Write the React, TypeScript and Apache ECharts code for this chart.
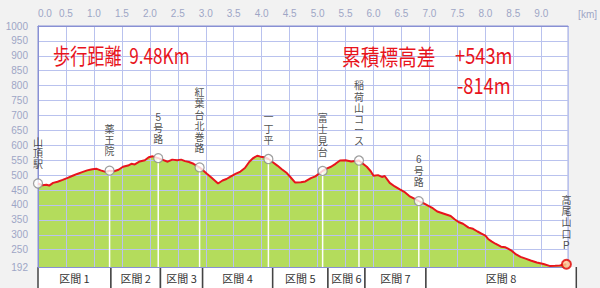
import React, { useEffect, useRef } from "react";
import * as echarts from "echarts";

// elevation profile (distance km, elevation m)
const profileKm = [
  0.0, 0.08, 0.15, 0.2, 0.27, 0.35, 0.44, 0.52, 0.62, 0.7, 0.79, 0.88, 0.97, 1.05, 1.12, 1.21, 1.28, 1.36, 1.44, 1.52,
  1.61, 1.67, 1.73, 1.82, 1.91, 1.98, 2.05, 2.15, 2.22, 2.32, 2.4, 2.49, 2.56, 2.63, 2.7, 2.78, 2.89, 2.96, 3.02, 3.1,
  3.22, 3.3, 3.37, 3.45, 3.54, 3.62, 3.7, 3.78, 3.84, 3.92, 3.98, 4.05, 4.12, 4.2, 4.28, 4.36, 4.45, 4.52, 4.6, 4.7,
  4.78, 4.88, 4.96, 5.09, 5.16, 5.24, 5.32, 5.4, 5.5, 5.6, 5.74, 5.8, 5.88, 5.95, 6.0, 6.08, 6.15, 6.2, 6.29, 6.38,
  6.47, 6.55, 6.64, 6.72, 6.81, 6.9, 6.99, 7.06, 7.14, 7.22, 7.3, 7.38, 7.45, 7.52, 7.6, 7.7, 7.78, 7.86, 7.93, 8.0,
  8.05, 8.11, 8.18, 8.28, 8.36, 8.46, 8.55, 8.63, 8.72, 8.81, 8.92, 9.04, 9.16, 9.25, 9.33, 9.45,
];
const profileElev = [
  472, 466, 468, 465, 474, 478, 484, 490, 498, 504, 510, 516, 520, 521, 516, 511, 515, 513, 518, 528,
  532, 538, 536, 546, 550, 560, 563, 557, 552, 545, 552, 550, 552, 547, 544, 538, 526, 515, 505, 492,
  472, 482, 487, 496, 505, 512, 524, 545, 556, 565, 562, 560, 554, 543, 532, 520, 507, 492, 475, 476,
  479, 490, 496, 514, 522, 528, 538, 549, 550, 546, 549, 540, 528, 513, 498, 500, 494, 497, 474, 462,
  452, 444, 430, 422, 413, 405, 396, 389, 378, 373, 368, 363, 352, 343, 337, 324, 320, 311, 304, 297,
  286, 278, 270, 260, 258, 248, 234, 226, 220, 214, 207, 202, 195, 196, 197, 201,
];

const waypointNames = ["山頂駅", "薬王院", "5号路", "紅葉台北巻路", "一丁平", "富士見台", "稲荷山コース", "6号路", "高尾山口P"];
const waypointKm = [0.0, 1.28, 2.15, 2.89, 4.12, 5.09, 5.74, 6.81, 9.45];
const waypointElev = [472, 515, 557, 526, 554, 514, 549, 413, 201];

const sectionNames = ["区間 1", "区間 2", "区間 3", "区間 4", "区間 5", "区間 6", "区間 7", "区間 8"];

const yTicks = [192, 250, 300, 350, 400, 450, 500, 550, 600, 650, 700, 750, 800, 850, 900, 950, 1000];
const xMax = 9.48;
const yMin = 192;
const yMax = 1000;

const distanceText = "歩行距離  9.48Km";
const gainTitle = "累積標高差";
const gainUp = "+543m";
const gainDown = "-814m";

export default function App() {
  const ref = useRef<HTMLDivElement>(null);

  useEffect(() => {
    if (!ref.current) return;
    const chart = echarts.init(ref.current, null, { renderer: "svg" });

    const profile = profileKm.map((k, i) => [k, profileElev[i]]);
    const points = waypointNames.map((n, i) => ({
      name: n,
      value: [waypointKm[i], waypointElev[i]],
      itemStyle:
        i === waypointNames.length - 1
          ? { color: "#ffc890", borderColor: "#e00000", borderWidth: 2 }
          : { color: "#ffffff", borderColor: "#888888", borderWidth: 1.2 },
    }));
    const drops = waypointKm.slice(1, -1).map((k, i) => [k, waypointElev[i + 1]]);
    const sections = sectionNames.map((n, i) => [waypointKm[i], waypointKm[i + 1], n]);

    const gridLine = { color: "#b9c2ee", width: 1 };
    const labelColor = "#9ea6c6";
    const red = "#e8141c";

    chart.setOption({
      animation: false,
      backgroundColor: "#f2f2f2",
      grid: [
        { left: 38, right: 22, top: 26, bottom: 21, show: true, backgroundColor: "#ffffff", borderColor: "#8890d4", borderWidth: 1 },
        { left: 38, right: 22, top: 267, height: 24 },
      ],
      xAxis: [
        {
          type: "value",
          gridIndex: 0,
          position: "top",
          min: 0,
          max: xMax,
          interval: 0.5,
          z: 2,
          name: "[km]",
          nameLocation: "end",
          nameGap: 10,
          nameTextStyle: { color: labelColor, fontSize: 10, fontFamily: "Liberation Sans", verticalAlign: "bottom", padding: [0, 0, 7, 0] },
          axisLine: { show: true, lineStyle: { color: "#8890d4" } },
          axisTick: { show: false },
          axisLabel: {
            color: labelColor,
            fontSize: 10,
            fontFamily: "Liberation Sans",
            margin: 8,
            showMaxLabel: false,
            alignMinLabel: "left",
            formatter: (v: number) => v.toFixed(1),
          },
          splitLine: { show: true, lineStyle: gridLine },
        },
        {
          type: "value",
          gridIndex: 0,
          position: "bottom",
          min: 0,
          max: xMax,
          z: 2,
          axisLine: { show: true, lineStyle: { color: "#8890d4" } },
          axisTick: { show: false },
          axisLabel: { show: false },
          splitLine: { show: false },
        },
        {
          type: "value",
          gridIndex: 1,
          min: 0,
          max: xMax,
          show: false,
        },
      ],
      yAxis: [
        {
          type: "value",
          gridIndex: 0,
          min: yMin,
          max: yMax,
          z: 2,
          axisLine: { show: true, lineStyle: { color: "#8890d4" } },
          axisTick: { show: false, customValues: yTicks },
          axisLabel: {
            color: labelColor,
            fontSize: 10,
            fontFamily: "Liberation Sans",
            margin: 10,
            customValues: yTicks,
            formatter: (v: number) => String(v),
          },
          splitLine: { show: true, lineStyle: gridLine },
        },
        { type: "value", gridIndex: 1, min: 0, max: 1, show: false },
      ],
      series: [
        {
          type: "line",
          xAxisIndex: 0,
          yAxisIndex: 0,
          data: profile,
          symbol: "none",
          z: 1,
          lineStyle: { width: 0 },
          areaStyle: { color: "#b4dc5c", opacity: 1, origin: "start" },
        },
        {
          type: "custom",
          xAxisIndex: 0,
          yAxisIndex: 0,
          z: 3,
          data: drops,
          renderItem: (params: any, api: any) => {
            const top = api.coord([api.value(0), api.value(1)]);
            const bottom = api.coord([api.value(0), yMin]);
            return {
              type: "line",
              shape: { x1: top[0], y1: top[1], x2: bottom[0], y2: bottom[1] },
              style: { stroke: "#ffffff", lineWidth: 1.5 },
            };
          },
        },
        {
          type: "line",
          xAxisIndex: 0,
          yAxisIndex: 0,
          data: profile,
          symbol: "none",
          z: 4,
          lineStyle: { color: red, width: 2 },
        },
        {
          type: "scatter",
          xAxisIndex: 0,
          yAxisIndex: 0,
          z: 5,
          symbol: "circle",
          symbolSize: 9,
          data: points,
          label: {
            show: true,
            position: "top",
            distance: 8,
            color: "#222222",
            fontSize: 10,
            lineHeight: 11.2,
            fontFamily: "Liberation Sans, Noto Sans CJK JP",
            formatter: (p: any) => p.name.split("").join("\n"),
          },
        },
        {
          type: "custom",
          xAxisIndex: 2,
          yAxisIndex: 1,
          data: sections,
          renderItem: (params: any, api: any) => {
            const p0 = api.coord([api.value(0), 1]);
            const p1 = api.coord([api.value(1), 0]);
            const name = sections[params.dataIndex][2] as string;
            return {
              type: "group",
              children: [
                { type: "rect", shape: { x: p0[0], y: p0[1], width: p1[0] - p0[0], height: p1[1] - p0[1] }, style: { fill: "#ffffff" } },
                { type: "line", shape: { x1: p0[0], y1: p0[1], x2: p0[0], y2: p1[1] }, style: { stroke: "#444444", lineWidth: 1.5 } },
                { type: "line", shape: { x1: p1[0], y1: p0[1], x2: p1[0], y2: p1[1] }, style: { stroke: "#444444", lineWidth: 1.5 } },
                {
                  type: "text",
                  style: {
                    text: name,
                    x: (p0[0] + p1[0]) / 2,
                    y: p0[1] + 11,
                    align: "center",
                    verticalAlign: "middle",
                    fill: "#333333",
                    fontSize: 11,
                    fontFamily: "Noto Sans CJK JP",
                  },
                },
              ],
            };
          },
        },
      ],
      graphic: [
        {
          type: "text",
          x: 53,
          y: 55,
          scaleX: 0.78,
          z: 10,
          style: { text: distanceText, fill: red, fontSize: 22, fontFamily: "Noto Sans CJK JP", verticalAlign: "middle", textVerticalAlign: "middle" },
        },
        {
          type: "text",
          x: 342,
          y: 55,
          scaleX: 0.85,
          z: 10,
          style: { text: gainTitle, fill: red, fontSize: 22, fontFamily: "Noto Sans CJK JP", verticalAlign: "middle", textVerticalAlign: "middle" },
        },
        {
          type: "text",
          x: 455,
          y: 55,
          scaleX: 0.83,
          z: 10,
          style: { text: gainUp, fill: red, fontSize: 22, fontFamily: "Noto Sans CJK JP", verticalAlign: "middle", textVerticalAlign: "middle" },
        },
        {
          type: "text",
          x: 457,
          y: 85,
          scaleX: 0.83,
          z: 10,
          style: { text: gainDown, fill: red, fontSize: 22, fontFamily: "Noto Sans CJK JP", verticalAlign: "middle", textVerticalAlign: "middle" },
        },
      ],
    });

    return () => chart.dispose();
  }, []);

  return (
    <div
      ref={ref}
      style={{ position: "absolute", left: 0, top: 0, width: 600, height: 288, background: "#f2f2f2" }}
    />
  );
}
